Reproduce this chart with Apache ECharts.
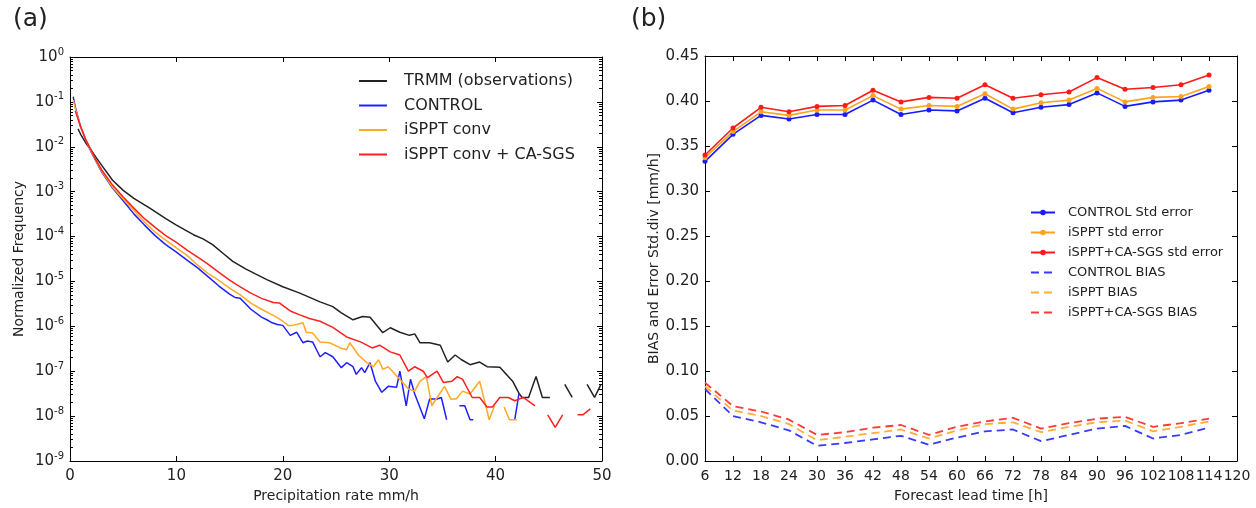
<!DOCTYPE html>
<html>
<head>
<meta charset="utf-8">
<script src="https://cdn.jsdelivr.net/npm/echarts@6/dist/echarts.min.js"></script>
<style>
    html, body { margin: 0; padding: 0; background: #fff; }
    #main { width: 1256px; height: 508px; }
</style>
</head>
<body>
<div id="main"></div>
<script>
// (a) precipitation rate distribution, mm/h vs normalized frequency (null = no events)
var trmmRate = [0.75, 1, 1.5, 2, 2.5, 3, 4, 5, 6, 7.5, 9, 10, 11.6, 12.5, 13.4, 14.4, 15.3, 16.5, 18.5, 20, 21.6, 23.5, 24.7, 25.5, 26.6, 27.5, 28.2, 29.4, 30.1, 31, 31.9, 32.4, 32.9, 33.8, 34.8, 35.5, 36.2, 36.8, 37.6, 38.5, 39.2, 40.4, 41.6, 42.2, 42.5, 43.1, 43.8, 44.4, 45.1, 45.8, 46.5, 47.2, 47.9, 48.6, 49.3, 49.9];
var trmmFreq = [2.5e-2, 1.9e-2, 1.2e-2, 8.3e-3, 5.6e-3, 3.8e-3, 1.8e-3, 1.07e-3, 7.1e-4, 4.3e-4, 2.5e-4, 1.8e-4, 1.1e-4, 8.9e-5, 6.6e-5, 4.2e-5, 2.8e-5, 1.9e-5, 1.1e-5, 7.6e-6, 5.5e-6, 3.5e-6, 2.75e-6, 2.0e-6, 1.4e-6, 1.66e-6, 1.6e-6, 7.2e-7, 9.3e-7, 7.4e-7, 6.3e-7, 6.8e-7, 4.3e-7, 4.3e-7, 3.8e-7, 1.6e-7, 2.3e-7, 1.8e-7, 1.4e-7, 1.6e-7, 1.26e-7, 1.23e-7, 6.0e-8, 3.2e-8, 2.6e-8, 2.6e-8, 7.6e-8, 2.6e-8, 2.6e-8, null, 5.1e-8, 2.6e-8, null, 5.1e-8, 2.6e-8, 5.1e-8];

var controlRate = [0.3, 0.5, 1, 1.5, 2, 2.5, 3, 4, 5, 6, 7, 8, 9, 10, 11, 12, 13, 14, 15, 15.5, 16, 16.5, 17, 18, 18.5, 19, 19.5, 20, 20.7, 21.3, 21.9, 22.3, 22.8, 23.5, 24, 24.7, 25.5, 26, 26.6, 26.9, 27.4, 27.7, 28.2, 28.7, 29.3, 29.9, 30.7, 31, 31.6, 32, 32.4, 33.3, 33.8, 34.5, 34.9, 35.4, 36, 36.6, 37.1, 37.6, 37.9, 39, 41.8, 42.2];
var controlFreq = [1.3e-1, 7.6e-2, 2.8e-2, 1.4e-2, 7.6e-3, 4.5e-3, 2.7e-3, 1.2e-3, 6.3e-4, 3.2e-4, 1.8e-4, 1.05e-4, 6.6e-5, 4.5e-5, 3.0e-5, 2.0e-5, 1.26e-5, 7.9e-6, 5.2e-6, 4.4e-6, 4.2e-6, 3.2e-6, 2.4e-6, 1.6e-6, 1.4e-6, 1.2e-6, 1.1e-6, 1.05e-6, 6.3e-7, 7.4e-7, 4.3e-7, 4.7e-7, 4.5e-7, 2.1e-7, 2.6e-7, 2.1e-7, 1.2e-7, 1.55e-7, 1.26e-7, 8.5e-8, 1.2e-7, 9.3e-8, 1.55e-7, 6.0e-8, 3.4e-8, 4.6e-8, 4.4e-8, 1.0e-7, 1.7e-8, 6.6e-8, 3.1e-8, 8.7e-9, 2.4e-8, 2.4e-8, 2.6e-8, 8.3e-9, null, 1.7e-8, 1.7e-8, 8.3e-9, 8.3e-9, null, 8.3e-9, 3.2e-8];

var isppRate = [0.3, 0.5, 1, 1.5, 2, 2.5, 3, 4, 5, 6, 7, 8, 9, 10, 11, 12, 13, 14, 15, 16, 17, 18, 19, 19.4, 20, 20.5, 20.9, 21.3, 21.9, 22.2, 22.8, 23.5, 24.4, 25.4, 26, 26.3, 27.1, 27.9, 28.5, 29, 29.4, 29.9, 31, 31.8, 32.4, 32.9, 33.5, 34, 34.5, 35.2, 35.8, 36.3, 36.9, 37.6, 38.5, 39.4, 39.9, 40.3, 40.8, 41.3, 42];
var isppFreq = [1.1e-1, 7.1e-2, 2.75e-2, 1.4e-2, 7.9e-3, 4.6e-3, 2.8e-3, 1.26e-3, 6.9e-4, 3.8e-4, 2.1e-4, 1.26e-4, 8.3e-5, 5.6e-5, 3.8e-5, 2.3e-5, 1.5e-5, 1.05e-5, 7.1e-6, 5.0e-6, 3.3e-6, 2.4e-6, 1.8e-6, 1.6e-6, 1.3e-6, 1.05e-6, 1.05e-6, 1.1e-6, 1.2e-6, 7.4e-7, 7.1e-7, 4.5e-7, 4.3e-7, 3.3e-7, 3.0e-7, 4.3e-7, 2.3e-7, 1.55e-7, 1.26e-7, 1.8e-7, 1.1e-7, 1.26e-7, 6.6e-8, 4.0e-8, 3.6e-8, 6.0e-8, 7.6e-8, 1.7e-8, 2.6e-8, 4.6e-8, 2.4e-8, 2.4e-8, 3.6e-8, 3.1e-8, 6.0e-8, 8.3e-9, 1.7e-8, null, 1.6e-8, 8.3e-9, 8.3e-9];

var casgsRate = [0.5, 1, 1.5, 2, 2.5, 3, 4, 5, 6, 7, 8, 9, 10, 11, 12, 13, 14, 15, 16, 17, 18, 19.1, 19.7, 20.7, 21.6, 22.5, 23.5, 24.7, 26, 27.3, 28.4, 29.1, 30.1, 31, 31.8, 32.4, 33.2, 33.6, 34.5, 35.1, 35.9, 36.4, 36.9, 37.8, 38.5, 39.2, 39.7, 40.4, 41.2, 41.8, 42.6, 43.7, 44.3, 44.9, 45.6, 46.3, 47, 47.7, 48.2, 48.9];
var casgsFreq = [6.3e-2, 2.8e-2, 1.4e-2, 8.3e-3, 4.8e-3, 3.0e-3, 1.4e-3, 7.6e-4, 4.3e-4, 2.5e-4, 1.6e-4, 1.05e-4, 7.4e-5, 5.0e-5, 3.5e-5, 2.4e-5, 1.6e-5, 1.07e-5, 7.6e-6, 5.5e-6, 4.2e-6, 3.4e-6, 3.3e-6, 2.2e-6, 1.8e-6, 1.5e-6, 1.3e-6, 9.5e-7, 5.8e-7, 4.5e-7, 3.3e-7, 3.8e-7, 2.7e-7, 2.3e-7, 1.0e-7, 1.26e-7, 1.0e-7, 7.2e-8, 1.0e-7, 5.6e-8, 6.0e-8, 7.6e-8, 6.6e-8, 2.6e-8, 2.6e-8, 1.6e-8, 1.6e-8, 2.6e-8, 2.6e-8, 2.2e-8, 2.6e-8, 1.7e-8, null, 1.07e-8, 5.6e-9, 1.07e-8, null, 1.07e-8, 1.07e-8, 1.45e-8];

// (b) forecast lead time [h] vs error std / bias [mm/h]
var leadTimes = [6, 12, 18, 24, 30, 36, 42, 48, 54, 60, 66, 72, 78, 84, 90, 96, 102, 108, 114];
var controlStd = [0.333, 0.363, 0.384, 0.380, 0.385, 0.385, 0.401, 0.385, 0.390, 0.389, 0.403, 0.387, 0.393, 0.396, 0.409, 0.394, 0.399, 0.401, 0.412];
var isppStd    = [0.337, 0.366, 0.388, 0.384, 0.390, 0.390, 0.406, 0.391, 0.395, 0.394, 0.408, 0.391, 0.398, 0.401, 0.414, 0.399, 0.404, 0.405, 0.416];
var casgsStd   = [0.340, 0.370, 0.393, 0.388, 0.394, 0.395, 0.412, 0.399, 0.404, 0.403, 0.418, 0.403, 0.407, 0.410, 0.426, 0.413, 0.415, 0.418, 0.429];
var controlBias = [0.080, 0.050, 0.043, 0.034, 0.017, 0.020, 0.024, 0.028, 0.018, 0.026, 0.033, 0.035, 0.022, 0.029, 0.036, 0.039, 0.025, 0.029, 0.037];
var isppBias    = [0.083, 0.056, 0.050, 0.041, 0.023, 0.027, 0.031, 0.035, 0.025, 0.034, 0.041, 0.043, 0.032, 0.038, 0.043, 0.045, 0.033, 0.038, 0.044];
var casgsBias   = [0.087, 0.061, 0.055, 0.046, 0.029, 0.032, 0.037, 0.040, 0.029, 0.038, 0.044, 0.048, 0.036, 0.042, 0.047, 0.049, 0.038, 0.042, 0.047];

var font = 'DejaVu Sans';
var dark = '#222';

function pairs(xs, ys) {
    return xs.map(function (x, i) { return [x, ys[i] == null ? '-' : ys[i]]; });
}

// legend entry drawn as a plain line (no marker)
function lineOnly(name) {
    return { name: name, itemStyle: { opacity: 0 } };
}

function frameAxis(extra) {
    var ax = {
        axisLine: { show: true, onZero: false, lineStyle: { color: '#000', width: 1 } },
        axisTick: { show: true, inside: true, length: 5, lineStyle: { color: '#000' } },
        axisLabel: { show: false },
        splitLine: { show: false }
    };
    return Object.assign(ax, extra);
}

var chart = echarts.init(document.getElementById('main'));

chart.setOption({
    backgroundColor: '#fff',
    animation: false,
    textStyle: { fontFamily: font },
    title: [
        { text: '(a)', left: 8, top: 2, textStyle: { fontSize: 25, fontWeight: 'normal', color: dark, fontFamily: font } },
        { text: '(b)', left: 626, top: 2, textStyle: { fontSize: 25, fontWeight: 'normal', color: dark, fontFamily: font } }
    ],
    grid: [
        { left: 70, right: 654, top: 57, bottom: 40 },
        { left: 705, right: 19, top: 56, bottom: 41 }
    ],
    legend: [
        {
            orient: 'vertical', left: 358, top: 73, padding: 0,
            itemWidth: 28, itemHeight: 14, itemGap: 8.5,
            textStyle: { fontSize: 16, color: dark, fontFamily: font, padding: [0, 0, 0, 12] },
            data: [lineOnly('TRMM (observations)'), lineOnly('CONTROL'), lineOnly('iSPPT conv'), lineOnly('iSPPT conv + CA-SGS')]
        },
        {
            orient: 'vertical', left: 1030, top: 205, padding: 0,
            itemWidth: 24, itemHeight: 7, itemGap: 5,
            textStyle: { fontSize: 13, color: dark, fontFamily: font, padding: [0, 0, 0, 8], lineHeight: 15 },
            data: ['CONTROL Std error', 'iSPPT std error', 'iSPPT+CA-SGS std error',
                lineOnly('CONTROL BIAS'), lineOnly('iSPPT BIAS'), lineOnly('iSPPT+CA-SGS BIAS')]
        }
    ],
    xAxis: [
        frameAxis({
            type: 'value', gridIndex: 0, min: 0, max: 50, interval: 10, position: 'bottom',
            name: 'Precipitation rate mm/h', nameLocation: 'middle', nameGap: 28,
            nameTextStyle: { fontSize: 14, color: dark, fontFamily: font },
            axisLabel: { show: true, fontSize: 15, color: dark, margin: 8, fontFamily: font }
        }),
        frameAxis({ type: 'value', gridIndex: 0, min: 0, max: 50, interval: 10, position: 'top' }),
        frameAxis({
            type: 'value', gridIndex: 1, min: 6, max: 120, interval: 6, position: 'bottom',
            name: 'Forecast lead time [h]', nameLocation: 'middle', nameGap: 28,
            nameTextStyle: { fontSize: 14, color: dark, fontFamily: font },
            axisLabel: { show: true, fontSize: 14, color: dark, margin: 8, fontFamily: font }
        }),
        frameAxis({ type: 'value', gridIndex: 1, min: 6, max: 120, interval: 6, position: 'top' })
    ],
    yAxis: [
        frameAxis({
            type: 'log', logBase: 10, gridIndex: 0, min: 1e-9, max: 1, position: 'left',
            name: 'Normalized Frequency', nameLocation: 'middle', nameGap: 44,
            nameTextStyle: { fontSize: 14, color: dark, fontFamily: font },
            minorTick: { show: true, splitNumber: 9, length: 3, lineStyle: { color: '#000' } },
            axisLabel: {
                show: true, margin: 6,
                formatter: function (v) {
                    return '{b|10}{s|' + Math.round(Math.log10(v)) + '}';
                },
                rich: {
                    b: { fontSize: 15, color: dark, fontFamily: font, lineHeight: 20 },
                    s: { fontSize: 10, color: dark, fontFamily: font, verticalAlign: 'top', lineHeight: 20, padding: [0, 0, 10, 0] }
                }
            }
        }),
        frameAxis({
            type: 'log', logBase: 10, gridIndex: 0, min: 1e-9, max: 1, position: 'right',
            minorTick: { show: true, splitNumber: 9, length: 3, lineStyle: { color: '#000' } }
        }),
        frameAxis({
            type: 'value', gridIndex: 1, min: 0, max: 0.45, interval: 0.05, position: 'left',
            name: 'BIAS and Error Std.div [mm/h]', nameLocation: 'middle', nameGap: 41,
            nameTextStyle: { fontSize: 14, color: dark, fontFamily: font },
            axisLabel: {
                show: true, fontSize: 15, color: dark, margin: 6, fontFamily: font,
                formatter: function (v) { return v.toFixed(2); }
            }
        }),
        frameAxis({ type: 'value', gridIndex: 1, min: 0, max: 0.45, interval: 0.05, position: 'right' })
    ],
    series: [
        {
            name: 'TRMM (observations)', type: 'line', xAxisIndex: 0, yAxisIndex: 0,
            data: pairs(trmmRate, trmmFreq), showSymbol: false, symbol: 'none',
            connectNulls: false, color: '#222', lineStyle: { width: 1.5, color: '#222' }
        },
        {
            name: 'CONTROL', type: 'line', xAxisIndex: 0, yAxisIndex: 0,
            data: pairs(controlRate, controlFreq), showSymbol: false, symbol: 'none',
            connectNulls: false, color: '#2020ff', lineStyle: { width: 1.5, color: '#2020ff' }
        },
        {
            name: 'iSPPT conv', type: 'line', xAxisIndex: 0, yAxisIndex: 0,
            data: pairs(isppRate, isppFreq), showSymbol: false, symbol: 'none',
            connectNulls: false, color: '#ffaa22', lineStyle: { width: 1.5, color: '#ffaa22' }
        },
        {
            name: 'iSPPT conv + CA-SGS', type: 'line', xAxisIndex: 0, yAxisIndex: 0,
            data: pairs(casgsRate, casgsFreq), showSymbol: false, symbol: 'none',
            connectNulls: false, color: '#ff2020', lineStyle: { width: 1.5, color: '#ff2020' }
        },
        {
            name: 'CONTROL Std error', type: 'line', xAxisIndex: 2, yAxisIndex: 2,
            data: pairs(leadTimes, controlStd), symbol: 'circle', symbolSize: 5,
            color: '#1a1aff', lineStyle: { width: 1.6, color: '#1a1aff' }
        },
        {
            name: 'iSPPT std error', type: 'line', xAxisIndex: 2, yAxisIndex: 2,
            data: pairs(leadTimes, isppStd), symbol: 'circle', symbolSize: 5,
            color: '#ffa31a', lineStyle: { width: 1.6, color: '#ffa31a' }
        },
        {
            name: 'iSPPT+CA-SGS std error', type: 'line', xAxisIndex: 2, yAxisIndex: 2,
            data: pairs(leadTimes, casgsStd), symbol: 'circle', symbolSize: 5,
            color: '#ff1a1a', lineStyle: { width: 1.6, color: '#ff1a1a' }
        },
        {
            name: 'CONTROL BIAS', type: 'line', xAxisIndex: 2, yAxisIndex: 2,
            data: pairs(leadTimes, controlBias), showSymbol: false, symbol: 'none',
            color: '#3a3aff', lineStyle: { width: 1.8, color: '#3a3aff', type: [8, 5] }
        },
        {
            name: 'iSPPT BIAS', type: 'line', xAxisIndex: 2, yAxisIndex: 2,
            data: pairs(leadTimes, isppBias), showSymbol: false, symbol: 'none',
            color: '#ffae33', lineStyle: { width: 1.8, color: '#ffae33', type: [8, 5] }
        },
        {
            name: 'iSPPT+CA-SGS BIAS', type: 'line', xAxisIndex: 2, yAxisIndex: 2,
            data: pairs(leadTimes, casgsBias), showSymbol: false, symbol: 'none',
            color: '#ff3a3a', lineStyle: { width: 1.8, color: '#ff3a3a', type: [8, 5] }
        }
    ]
});
</script>
</body>
</html>
